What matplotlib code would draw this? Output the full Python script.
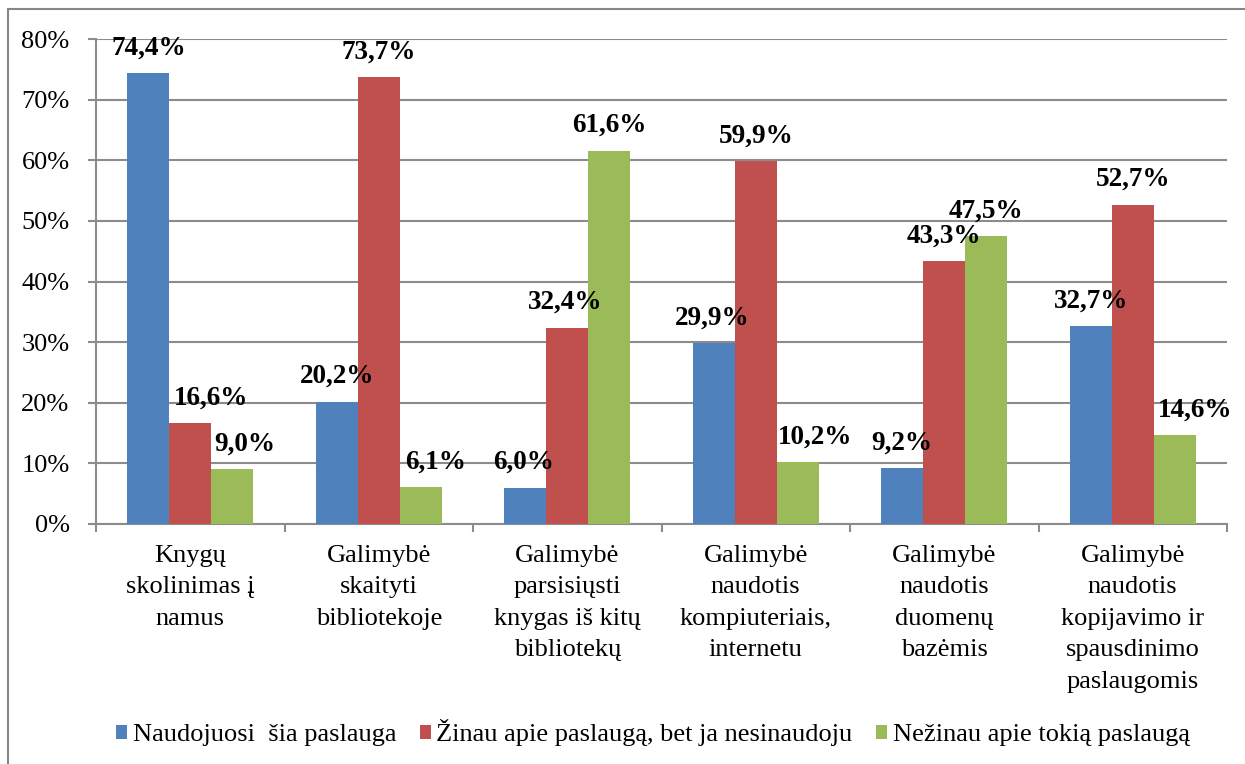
import matplotlib
matplotlib.use("Agg")
import matplotlib.pyplot as plt
import numpy as np
from matplotlib.patches import Rectangle

plt.rcParams['font.family'] = ['Liberation Serif', 'DejaVu Serif']

# data
categories = ["Knygų\nskolinimas į\nnamus",
              "Galimybė\nskaityti\nbibliotekoje",
              "Galimybė\nparsisiųsti\nknygas iš kitų\nbibliotekų",
              "Galimybė\nnaudotis\nkompiuteriais,\ninternetu",
              "Galimybė\nnaudotis\nduomenų\nbazėmis",
              "Galimybė\nnaudotis\nkopijavimo ir\nspausdinimo\npaslaugomis"]
series_names = ["Naudojuosi  šia paslauga",
                "Žinau apie paslaugą, bet ja nesinaudoju",
                "Nežinau apie tokią paslaugą"]
naudojuosi = [74.4, 20.2, 6.0, 29.9, 9.2, 32.7]
zinau = [16.6, 73.7, 32.4, 59.9, 43.3, 52.7]
nezinau = [9.0, 6.1, 61.6, 10.2, 47.5, 14.6]
colors = ["#4F81BD", "#C0504D", "#9BBB59"]

# label nudges (pixels) where the original labels sit off-centre
label_shift_px = [[0, 21, 13], [0, 0, 15], [-2, -2, 0],
                  [-2, 0, 17], [-1, 0, 0], [0, 0, 21]]

fig = plt.figure(figsize=(12.45, 7.64), dpi=100)
ax = fig.add_axes([96 / 1245, 240 / 764, 1131 / 1245, 485 / 764])

grid_c = "#8C8C8C"
fs = 19
x = np.arange(len(categories))
w = 0.222
all_series = [naudojuosi, zinau, nezinau]
for j, (vals, name, c) in enumerate(zip(all_series, series_names, colors)):
    bars = ax.bar(x + (j - 1) * w, vals, width=w, color=c, label=name, zorder=3)
    for i, b in enumerate(bars):
        ax.annotate(f"{vals[i]:.1f}%".replace(".", ","),
                    (b.get_x() + b.get_width() / 2, b.get_height()),
                    xytext=(label_shift_px[i][j] * 0.72, 18),
                    textcoords="offset points", ha="center", va="center",
                    fontsize=19.5, fontweight="bold", zorder=4)

ax.set_xlim(-0.5, len(categories) - 0.5)
ax.set_ylim(0, 80)
yt = np.arange(0, 81, 10)
ax.set_yticks(yt)
ax.set_yticklabels([f"{v}%" for v in yt])
ax.yaxis.grid(True, color=grid_c, linewidth=1.5, zorder=0)
ax.set_axisbelow(True)

ax.set_xticks(np.arange(-0.5, len(categories), 1))
ax.set_xticklabels([])
ax.set_xticks(x, minor=True)
ax.set_xticklabels(categories, minor=True, fontsize=fs, linespacing=1.56,
                   va="top")
ax.tick_params(axis="x", which="minor", length=0, pad=15)
ax.tick_params(axis="x", which="major", length=6, color=grid_c, width=1.5)
ax.tick_params(axis="y", length=6, color=grid_c, width=1.5, labelsize=fs,
               pad=13)

for s in ["top", "right"]:
    ax.spines[s].set_visible(False)
for s in ["left", "bottom"]:
    ax.spines[s].set_color(grid_c)
    ax.spines[s].set_linewidth(1.5)

# outer chart border
fig.patches.append(Rectangle((8 / 1245, -0.1), 1.2, 1 - 9 / 764 + 0.1,
                             transform=fig.transFigure, fill=False,
                             edgecolor="#868686", linewidth=1.5))

fig.legend(loc="center", bbox_to_anchor=(653 / 1245, 1 - 733 / 764), ncol=3,
           frameon=False, fontsize=fs, handlelength=0.42, handleheight=0.42,
           handletextpad=0.2, columnspacing=0.9, borderaxespad=0)

fig.savefig("out.png", dpi=100)
